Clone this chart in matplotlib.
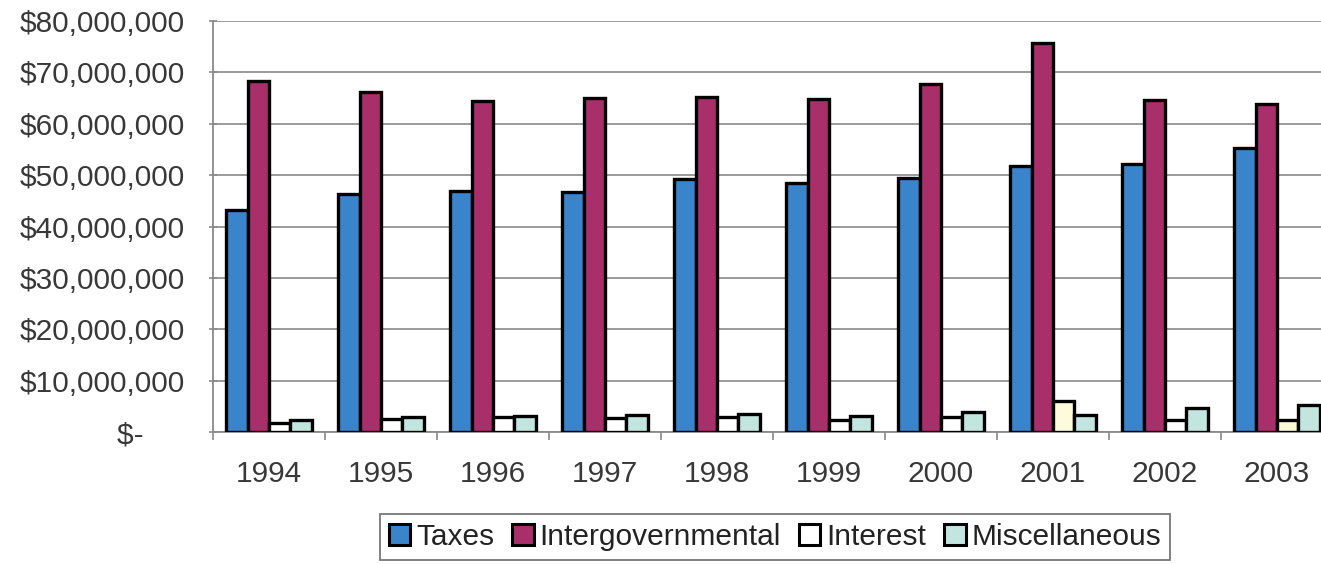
import numpy as np
import matplotlib.pyplot as plt
from matplotlib.ticker import FixedLocator, FuncFormatter

plt.rcParams['font.family'] = ['Liberation Sans', 'DejaVu Sans']

years = ['1994', '1995', '1996', '1997', '1998', '1999', '2000', '2001', '2002', '2003']
taxes = [43.3, 46.3, 46.9, 46.8, 49.3, 48.5, 49.4, 51.8, 52.2, 55.2]
intergovernmental = [68.4, 66.1, 64.5, 65.0, 65.3, 64.9, 67.8, 75.8, 64.6, 63.9]
interest = [1.7, 2.6, 2.9, 2.7, 3.0, 2.4, 3.0, 6.0, 2.4, 2.3]
miscellaneous = [2.3, 2.9, 3.1, 3.4, 3.5, 3.1, 3.8, 3.3, 4.7, 5.2]

series = ['Taxes', 'Intergovernmental', 'Interest', 'Miscellaneous']
colors = ['#3a84cc', '#a82f6a', '#ffffff', '#c3e5e0']
# interest bars for these two years come out a pale cream
interest_colors = ['#ffffff'] * 7 + ['#fdfbdc', '#ffffff', '#fbf8d8']

text_color = '#383838'
grid_color = '#8a8a8a'

fig = plt.figure(figsize=(13.21, 5.64), dpi=100)
ax = fig.add_axes([213 / 1321, 132 / 564, 1120 / 1321, 411 / 564])

x = np.arange(len(years))
w = 0.19
values = [taxes, intergovernmental, interest, miscellaneous]
for i, (name, vals) in enumerate(zip(series, values)):
    fc = interest_colors if name == 'Interest' else colors[i]
    ax.bar(x + (i - 1.5) * w, np.array(vals) * 1e6, width=w, color=fc,
           edgecolor='black', linewidth=2.4, label=name, zorder=3)

ax.set_xlim(-0.5, len(years) - 0.5)
ax.set_ylim(0, 80e6)

ax.yaxis.set_major_locator(FixedLocator(np.arange(0, 80e6 + 1, 10e6)))


def money(v, pos):
    if v == 0:
        return '$-     '
    return '${:,.0f}'.format(v)


ax.yaxis.set_major_formatter(FuncFormatter(money))
ax.grid(axis='y', color=grid_color, linewidth=1.2, zorder=0)

ax.set_xticks(x)
ax.set_xticklabels(years)
ax.set_xticks(np.arange(-0.5, len(years)), minor=True)
ax.tick_params(axis='x', which='major', length=0, pad=20,
               labelsize=21.5, labelcolor=text_color)
ax.tick_params(axis='x', which='minor', length=6, width=1.2,
               color=grid_color, direction='out')
ax.tick_params(axis='y', length=6, width=1.2, color=grid_color,
               direction='inout', pad=17, labelsize=21.5,
               labelcolor=text_color)

for side in ['top', 'right']:
    ax.spines[side].set_visible(False)
for side in ['left', 'bottom']:
    ax.spines[side].set_color(grid_color)
    ax.spines[side].set_linewidth(1.3)

leg = fig.legend(loc='center', bbox_to_anchor=(775 / 1321, 1 - 537 / 564),
                 ncol=4, fontsize=21.5, frameon=True, fancybox=False,
                 handlelength=0.72, handleheight=0.72, handletextpad=0.2,
                 columnspacing=0.6, borderpad=0.3, borderaxespad=0)
leg.get_frame().set_edgecolor('#555555')
leg.get_frame().set_linewidth(1.3)
for t in leg.get_texts():
    t.set_color('#222222')
for h in leg.legend_handles:
    h.set_linewidth(2.2)

fig.savefig('out.png', dpi=100)
